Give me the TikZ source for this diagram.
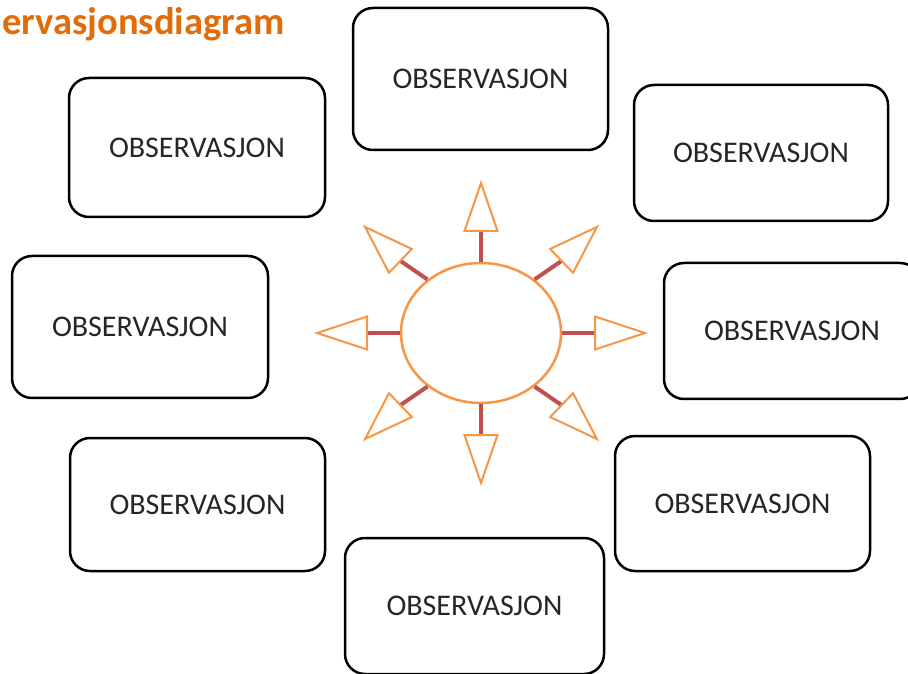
\documentclass[tikz,border=0pt]{standalone}
\usepackage{fontspec}
\setmainfont{Carlito}
\usetikzlibrary{calc,shapes.geometric}
\definecolor{triorange}{HTML}{F79646}
\definecolor{stemred}{HTML}{C0504D}
\definecolor{titleorange}{HTML}{E36C09}
\tikzset{
  obsbox/.style={draw=black, line width=2.5pt, rounded corners=20pt, fill=white,
    inner sep=0pt, align=center, text={black!85}, font=\fontsize{30}{34}\selectfont},
  stemline/.style={draw=stemred, line width=4pt},
  tri/.style={draw=triorange, line width=2pt, fill=white, line join=miter},
  hub/.style={ellipse, draw=triorange, line width=2.5pt, fill=white,
    minimum width=160pt, minimum height=140pt, inner sep=0pt}
}
\begin{document}
\begin{tikzpicture}[x=1pt,y=1pt]
\useasboundingbox (0,0) rectangle (908,673);
\clip (0,0) rectangle (908,673);
\fill[white] (0,0) rectangle (908,673);
\node[anchor=base west, text=titleorange, font=\fontsize{38.5}{42}\selectfont\bfseries, inner sep=0pt] (title) at (2,638) {ervasjonsdiagram};
\node[obsbox, minimum width=255pt, minimum height=142pt] (A) at (480.5,594) {OBSERVASJON};
\node[obsbox, minimum width=256pt, minimum height=139pt] (B) at (197,525.5) {OBSERVASJON};
\node[obsbox, minimum width=254pt, minimum height=136pt] (C) at (761,520) {OBSERVASJON};
\node[obsbox, minimum width=256pt, minimum height=142pt] (D) at (140,346) {OBSERVASJON};
\node[obsbox, minimum width=256pt, minimum height=136pt] (E) at (792,342) {OBSERVASJON};
\node[obsbox, minimum width=255pt, minimum height=133pt] (F) at (197.5,168.5) {OBSERVASJON};
\node[obsbox, minimum width=255pt, minimum height=135pt] (G) at (742.5,169.5) {OBSERVASJON};
\node[obsbox, minimum width=259pt, minimum height=136pt] (H) at (474.5,67) {OBSERVASJON};
\node[hub] (e) at (481,340) {};
\foreach \a [count=\i] in {0,45,...,315}{
  \coordinate (b\i) at ($(e.center)+({114*cos(\a)},{102*sin(\a)})$);
  \coordinate (t\i) at ($(e.center)+({164*cos(\a)},{150*sin(\a)})$);
  \draw[stemline] (e.\a) -- (b\i);
  \draw[tri] ($(b\i)!16.5pt!90:(t\i)$) -- (t\i) -- ($(b\i)!16.5pt!-90:(t\i)$) -- cycle;
}
\end{tikzpicture}
\end{document}
